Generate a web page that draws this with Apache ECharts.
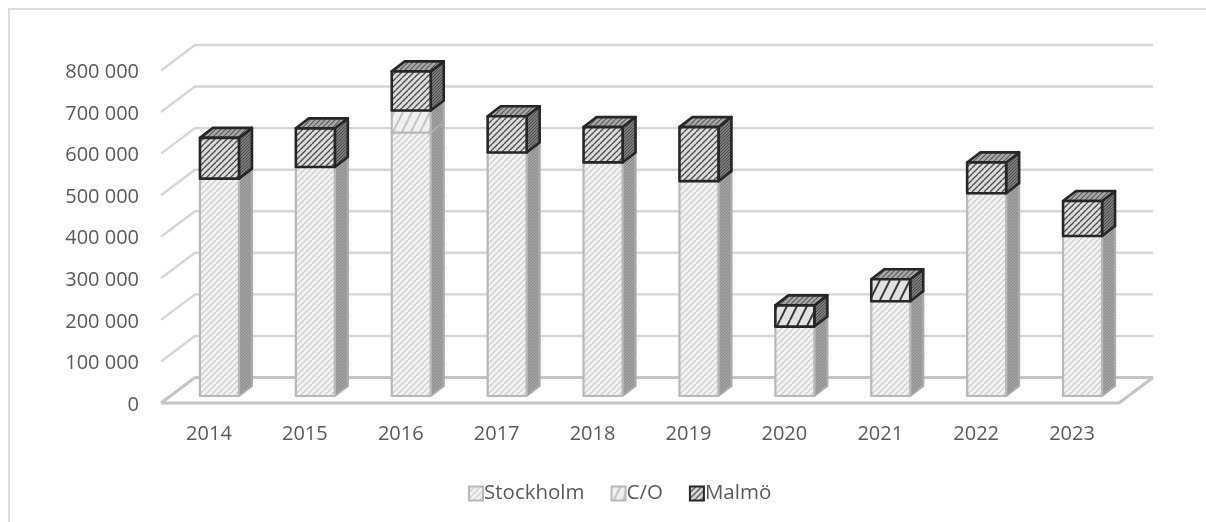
<!DOCTYPE html>
<html>
<head>
<meta charset="utf-8">
<style>
html, body { margin: 0; padding: 0; background: #fff; }
#chart { width: 1206px; height: 522px; }
</style>
<script src="https://cdn.jsdelivr.net/npm/echarts@6/dist/echarts.min.js"></script>
</head>
<body>
<div id="chart"></div>
<script>
var years = ['2014', '2015', '2016', '2017', '2018', '2019', '2020', '2021', '2022', '2023'];
var stockholm = [523000, 551000, 634000, 586000, 562000, 517000, 167000, 228000, 488000, 385000];
var co = [0, 0, 53000, 0, 0, 0, 0, 0, 0, 0];
var malmo = [98000, 93000, 94000, 87000, 85000, 130000, 51000, 53000, 74000, 84000];
var yTicks = [0, 100000, 200000, 300000, 400000, 500000, 600000, 700000, 800000];

// hatch fill, drawn once and used as a repeating pattern
function hatch(bg, fg, w, h, width) {
	var c = document.createElement('canvas');
	c.width = w;
	c.height = h;
	var g = c.getContext('2d');
	g.fillStyle = bg;
	g.fillRect(0, 0, w, h);
	g.strokeStyle = fg;
	g.lineWidth = width;
	g.beginPath();
	for (var i = -w; i <= w * 2; i += w) {
		g.moveTo(i, h);
		g.lineTo(i + w, 0);
	}
	g.stroke();
	return { image: c, repeat: 'repeat' };
}

var styles = {
	Stockholm: {
		front: hatch('#f3f3f3', '#cecece', 6, 6, 1.4),
		side: hatch('#a2a2a2', '#8a8a8a', 3, 3, 1),
		top: hatch('#d0d0d0', '#a8a8a8', 5, 5, 1),
		line: '#b8b8b8',
		sideLine: '#ababab',
		width: 2.2
	},
	'C/O': {
		front: hatch('#f0f0f0', '#c4c4c4', 9, 18, 2),
		side: hatch('#a2a2a2', '#8a8a8a', 3, 3, 1),
		top: hatch('#c8c8c8', '#a0a0a0', 5, 5, 1),
		line: '#b8b8b8',
		sideLine: '#ababab',
		width: 2.2
	},
	'Malmö': {
		front: hatch('#dcdcdc', '#484848', 6, 6, 1.3),
		coarse: hatch('#e2e2e2', '#3a3a3a', 10, 20, 2),
		side: hatch('#7c7c7c', '#4a4a4a', 3, 3, 1),
		top: hatch('#a8a8a8', '#5a5a5a', 5, 5, 1.2),
		line: '#262626',
		sideLine: '#262626',
		width: 2.6
	}
};

var depthX = 13;
var depthY = -10;
var barShiftX = 10.5;
var barShiftY = -7;
var barWidth = 39;
var coarseBelow = 60000;

// one stacked 3D block: front face, side face and top face
function blockItem(name, base) {
	return function (params, api) {
		var idx = api.value(0);
		var val = api.value(1);
		if (!val) {
			return { type: 'group', children: [] };
		}
		var low = api.coord([idx, base[idx]]);
		var high = api.coord([idx, base[idx] + val]);
		var x0 = low[0] + barShiftX - barWidth / 2;
		var x1 = x0 + barWidth;
		var y0 = low[1] + barShiftY;
		var y1 = high[1] + barShiftY;
		var s = styles[name];
		var frontFill = s.coarse && val < coarseBelow ? s.coarse : s.front;
		function face(points, fill, stroke) {
			return {
				type: 'polygon',
				shape: { points: points },
				style: { fill: fill, stroke: stroke, lineWidth: s.width, lineJoin: 'round' }
			};
		}
		return {
			type: 'group',
			children: [
				face([[x1, y0], [x1 + depthX, y0 + depthY], [x1 + depthX, y1 + depthY], [x1, y1]], s.side, s.sideLine),
				face([[x0, y1], [x0 + depthX, y1 + depthY], [x1 + depthX, y1 + depthY], [x1, y1]], s.top, s.sideLine),
				face([[x0, y0], [x1, y0], [x1, y1], [x0, y1]], frontFill, s.line)
			]
		};
	};
}

// back wall, side wall and floor lines
var wallX = 34;
var wallY = -25.5;
var wallRight = 1153;
function wallItem(params, api) {
	var v = api.value(0);
	var p = api.coord([0, v]);
	var left = api.coord([0, 0])[0] - api.size([1, 0])[0] / 2;
	var isFloor = v === 0;
	var color = isFloor ? '#c4c4c4' : '#d6d6d6';
	var width = isFloor ? 3.2 : 2.4;
	var y = p[1];
	var style = { stroke: color, lineWidth: width, fill: null };
	var children = [
		{ type: 'polyline', shape: { points: [[left, y], [left + wallX, y + wallY], [wallRight, y + wallY]] }, style: style }
	];
	if (isFloor) {
		children.push({
			type: 'polyline',
			shape: { points: [[left, y], [wallRight - wallX, y], [wallRight, y + wallY]] },
			style: style
		});
	}
	return { type: 'group', children: children };
}

var stackBaseCo = stockholm;
var stackBaseMalmo = stockholm.map(function (v, i) { return v + co[i]; });
var zeroBase = stockholm.map(function () { return 0; });

function blockSeries(name, values, base, z) {
	return {
		name: name,
		type: 'custom',
		z: z,
		silent: true,
		renderItem: blockItem(name, base),
		encode: { x: 0, y: 1 },
		data: values.map(function (v, i) { return [i, v]; })
	};
}

function legendItem(name) {
	return {
		name: name,
		icon: 'rect',
		itemStyle: { color: styles[name].front, borderColor: styles[name].line, borderWidth: 2 }
	};
}

var chart = echarts.init(document.getElementById('chart'), null, { renderer: 'canvas' });

chart.setOption({
	animation: false,
	textStyle: { fontFamily: '"Open Sans", sans-serif' },
	graphic: [
		{ type: 'polyline', silent: true, shape: { points: [[9, 522], [9, 9], [1206, 9]] }, style: { stroke: '#dcdcdc', lineWidth: 2, fill: null } }
	],
	grid: { left: 161, right: 86, top: 70.5, height: 332.5, containLabel: false },
	xAxis: {
		type: 'category',
		data: years,
		axisLine: { show: false },
		axisTick: { show: false },
		axisLabel: { fontSize: 20, color: '#595959', margin: 21 }
	},
	yAxis: {
		type: 'value',
		min: 0,
		max: 800000,
		interval: 100000,
		axisLine: { show: false },
		axisTick: { show: false },
		splitLine: { show: false },
		axisLabel: {
			fontSize: 20,
			color: '#595959',
			margin: 22,
			verticalAlign: 'top',
			lineHeight: 4,
			formatter: function (v) {
				return String(v).replace(/\B(?=(\d{3})+$)/g, ' ');
			}
		}
	},
	legend: {
		data: [legendItem('Stockholm'), legendItem('C/O'), legendItem('Malmö')],
		left: 463,
		top: 478,
		itemWidth: 14,
		itemHeight: 14,
		itemGap: 26,
		textStyle: { fontSize: 20.5, color: '#595959', padding: [0, 0, 0, -4] }
	},
	series: [
		{
			type: 'custom',
			z: 1,
			silent: true,
			renderItem: wallItem,
			encode: { y: 0 },
			data: yTicks.map(function (v) { return [v]; })
		},
		blockSeries('Stockholm', stockholm, zeroBase, 2),
		blockSeries('C/O', co, stackBaseCo, 3),
		blockSeries('Malmö', malmo, stackBaseMalmo, 4)
	]
});
</script>
</body>
</html>
